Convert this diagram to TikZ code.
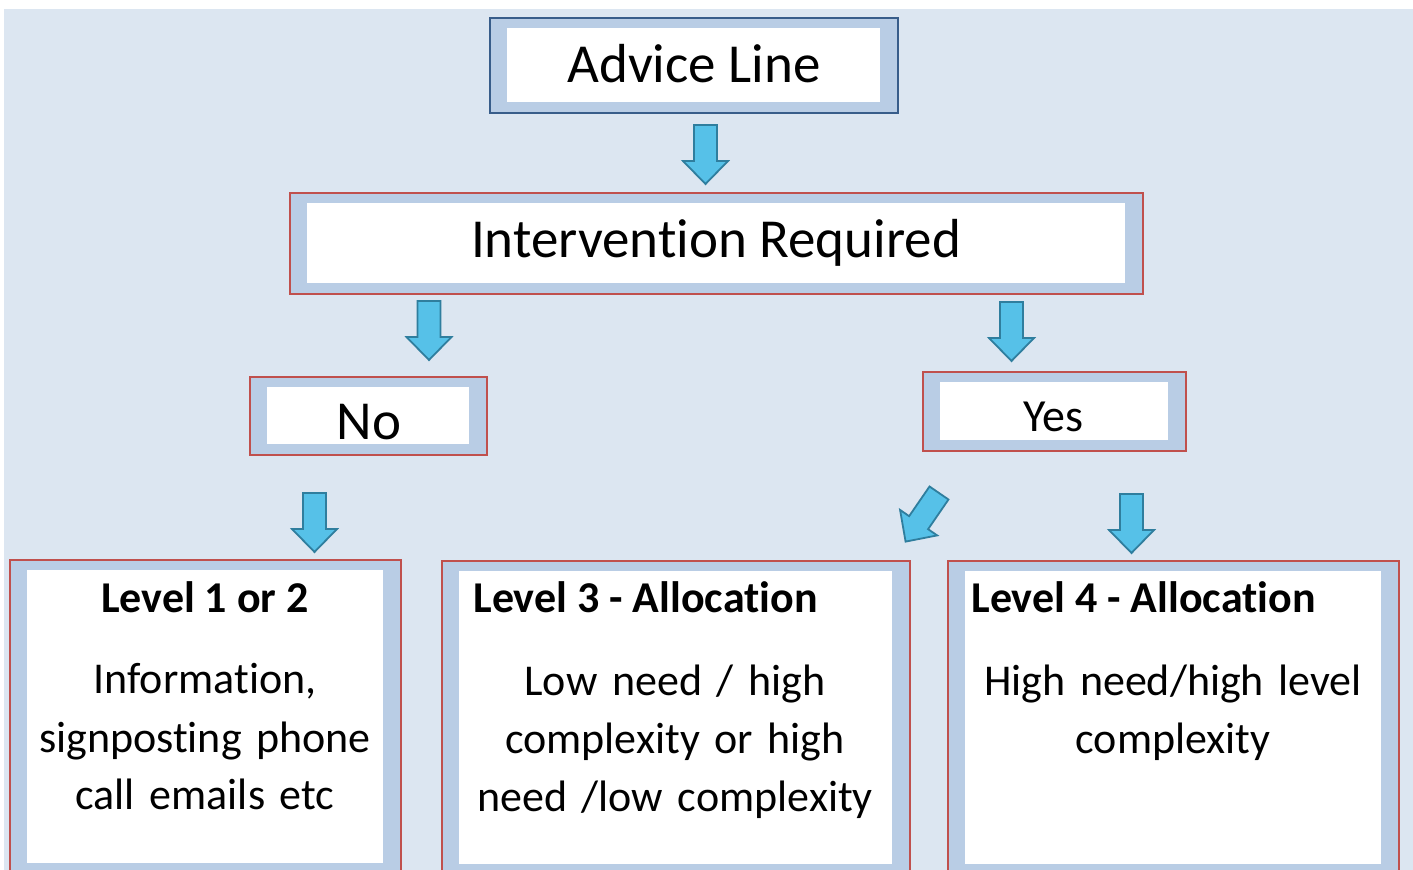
\documentclass[tikz,border=0pt]{standalone}
\usepackage{fontspec}
\setmainfont{Carlito}[Ligatures={NoCommon}, Contextuals={NoAlternate}]
\usetikzlibrary{calc}
\definecolor{cbg}{HTML}{DCE6F1}
\definecolor{cframe}{HTML}{B9CDE5}
\definecolor{cred}{HTML}{C0504D}
\definecolor{cnavy}{HTML}{385D8A}
\definecolor{carrow}{HTML}{56C1E8}
\definecolor{carrowline}{HTML}{2F7E9E}
\tikzset{
  frame/.style={draw=#1, fill=cframe, line width=0.75pt, inner sep=0pt, outer sep=0pt, anchor=north west,
    path picture={\fill[white] ([shift={(17,10)}]path picture bounding box.north west) rectangle ([shift={(-18,-11)}]path picture bounding box.south east);}},
  frame/.default=cred,
  big/.style={font=\fontsize{27.5pt}{33pt}\selectfont, inner sep=0pt, anchor=base},
  head/.style={font=\bfseries\fontsize{22pt}{27pt}\selectfont, inner sep=0pt},
  body/.style={font=\fontsize{22pt}{29pt}\selectfont, inner sep=0pt, align=center, text width=#1, anchor=base},
  blockarrow/.pic={\draw[fill=carrow, draw=carrowline, line width=0.9pt] (-11.5,0) -- (11.5,0) -- (11.5,36) -- (22.5,36) -- (0,59) -- (-22.5,36) -- (-11.5,36) -- cycle;},
}

\begin{document}
\begin{tikzpicture}[x=0.5pt, y=-0.5pt]
  \useasboundingbox (0,0) rectangle (1413,870);
  \clip (0,0) rectangle (1413,870);
  \fill[cbg] (4,9) rectangle (1413,870);

  % advice line and the question
  \node[frame=cnavy, minimum width=204pt, minimum height=47.5pt] (advice) at (490,18) {};
  \node[big] (advicetxt) at (694,83) {Advice Line};
  \node[frame, minimum width=426.5pt, minimum height=50.5pt] (interv) at (290,193) {};
  \node[big] (intervtxt) at (716,258) {Intervention Required};

  % answers
  \node[frame, minimum width=118.5pt, minimum height=39pt] (no) at (250,377) {};
  \node[big] (notxt) at (369,440) {No};
  \node[frame, minimum width=131.5pt, minimum height=39.5pt] (yes) at (923,372) {};
  \node[big, font=\fontsize{23pt}{28pt}\selectfont] (yestxt) at (1053,432) {Yes};

  % levels
  \node[frame, minimum width=195.5pt, minimum height=157pt] (lvone) at (10,560) {};
  \node[head, anchor=base] (lvonehead) at (205,613) {Level 1 or 2};
  \node[body=176pt] (lvonebody) at (205,694) {Information,\\signposting phone\\call emails etc};

  \node[frame, minimum width=234pt, minimum height=157pt] (lvthree) at (442,561) {};
  \node[head, anchor=base west] (lvthreehead) at (473,613) {Level 3 - Allocation};
  \node[body=210pt] (lvthreebody) at (675,696) {Low need / high\\complexity or high\\need /low complexity};

  \node[frame, minimum width=225.5pt, minimum height=157pt] (lvfour) at (948,561) {};
  \node[head, anchor=base west] (lvfourhead) at (971,613) {Level 4 - Allocation};
  \node[body=204pt] (lvfourbody) at (1173,696) {High need/high level\\complexity};

  % block arrows
  \pic at (705.5,125) {blockarrow};
  \pic at (429,301) {blockarrow};
  \pic at (1011.5,302) {blockarrow};
  \pic at (314.5,493) {blockarrow};
  \pic[rotate=-34.5] at (939,493) {blockarrow};
  \pic at (1131.5,494) {blockarrow};
\end{tikzpicture}
\end{document}
